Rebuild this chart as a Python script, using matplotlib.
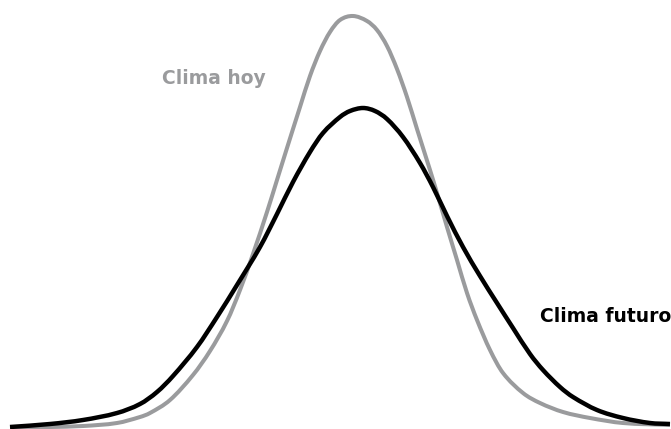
import matplotlib.pyplot as plt
from matplotlib.path import Path
from matplotlib.patches import PathPatch

# curve points (x position, height above baseline)
hoy_x = [10, 50, 83, 117, 140, 150, 170, 193, 210, 227, 240, 253, 267, 277, 287,
         300, 310, 320, 330, 340, 353, 367, 377, 387, 397, 407, 417, 430, 437,
         447, 457, 467, 477, 490, 503, 523, 540, 563, 590, 623, 670]
hoy_y = [0, 1, 2, 5, 11, 15, 28, 53, 77, 107, 138, 174, 216, 248, 280,
         321, 352, 377, 396, 408, 412, 407, 398, 382, 359, 331, 299, 258, 235,
         201, 168, 135, 108, 78, 55, 35, 25, 16, 10, 5, 3]

futuro_x = [10, 50, 83, 117, 140, 157, 173, 197, 217, 237, 260, 277, 293, 310,
            323, 340, 350, 363, 375, 387, 403, 420, 433, 447, 463, 480, 497,
            513, 530, 543, 560, 573, 597, 623, 650, 670]
futuro_y = [1, 4, 8, 15, 24, 36, 52, 81, 111, 143, 181, 214, 246, 276,
            295, 311, 317, 320, 317, 309, 291, 265, 241, 212, 181, 152, 125,
            100, 74, 58, 41, 31, 18, 10, 5, 4]

grey = '#9a9b9d'


def smooth_path(xs, ys):
    # cubic hermite through the read points (slopes from neighbours), as beziers
    n = len(xs)
    m = []
    for i in range(n):
        a = max(i - 1, 0)
        b = min(i + 1, n - 1)
        m.append((ys[b] - ys[a]) / (xs[b] - xs[a]))
    verts = [(xs[0], ys[0])]
    codes = [Path.MOVETO]
    for i in range(n - 1):
        h = xs[i + 1] - xs[i]
        verts += [(xs[i] + h / 3, ys[i] + m[i] * h / 3),
                  (xs[i + 1] - h / 3, ys[i + 1] - m[i + 1] * h / 3),
                  (xs[i + 1], ys[i + 1])]
        codes += [Path.CURVE4] * 3
    return Path(verts, codes)


fig = plt.figure(figsize=(6.71, 4.29), dpi=100)
ax = fig.add_axes([0, 0, 1, 1])
ax.add_patch(PathPatch(smooth_path(hoy_x, hoy_y), fill=False, edgecolor=grey,
                       lw=2.9, joinstyle='round', capstyle='butt'))
ax.add_patch(PathPatch(smooth_path(futuro_x, futuro_y), fill=False, edgecolor='black',
                       lw=3.2, joinstyle='round', capstyle='butt'))

ax.text(162, 349, 'Clima hoy', color=grey, fontsize=13.5, fontweight='bold',
        ha='left', va='center', family='DejaVu Sans')
ax.text(540, 111, 'Clima futuro', color='black', fontsize=13.5, fontweight='bold',
        ha='left', va='center', family='DejaVu Sans')

ax.set_xlim(0, 671)
ax.set_ylim(-1, 428)
ax.axis('off')

fig.savefig('out.png', dpi=100)
